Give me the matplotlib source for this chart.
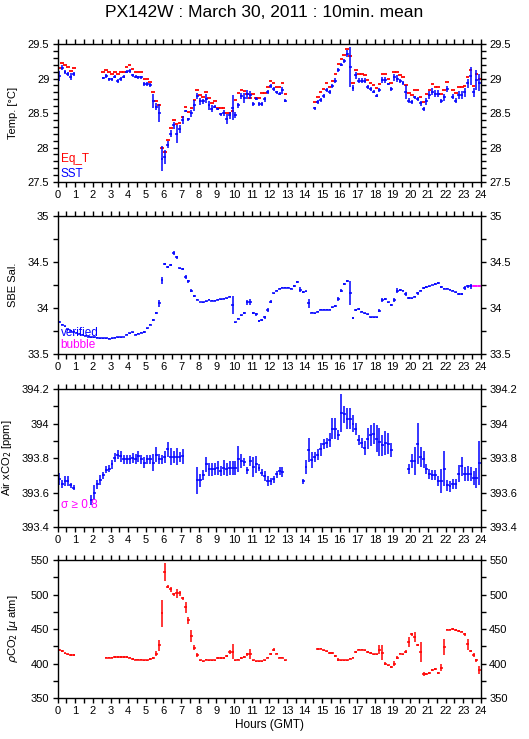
import numpy as np
import matplotlib
matplotlib.use('Agg')
import matplotlib.pyplot as plt
from matplotlib.ticker import MultipleLocator

plt.rcParams['font.family'] = ['Liberation Sans', 'DejaVu Sans']
plt.rcParams['mathtext.fontset'] = 'dejavusans'

nan = np.nan

# 10-min means, interval centres (hours GMT)
hours = np.arange(144) / 6.0 + 1.0 / 12
half = 1.0 / 12

# ---- Temperature ----
sst = ([29.04, 29.16, 29.09, 29.07, 29.03, 29.07] + [nan] * 9 +
       [29.01, 29.04, 28.99, 28.99, 29.03, 28.97, 29.00, 29.03, 29.10, 29.11,
        29.05, 29.03, 29.02, 29.02, 28.92, 28.92, 28.91, 28.68, 28.59, 28.50,
        27.84, 27.86, 28.04, 28.20, 28.32, 28.20, 28.27, 28.40, 28.53, 28.41,
        28.50, 28.61, 28.75, 28.67, 28.67, 28.71, 28.61, 28.56, 28.59, 28.56,
        28.48, 28.50, 28.41, 28.47, 28.58, 28.47, 28.61, 28.75, 28.72, 28.77,
        28.76, 28.63, 28.71, 28.63, 28.63, 28.70, 28.81, 28.89, 28.85, 28.80,
        28.78, 28.83, 28.68] + [nan] * 9 +
       [28.57, 28.66, 28.69, 28.75, 28.84, 28.80, 28.89, 28.97, 29.12, 29.20,
        29.25, 29.36, 29.17, 28.86, 29.05, 28.97, 28.97, 28.97, 28.88, 28.85,
        28.81, 28.75, 28.83, 28.98, 28.98, 28.92, 28.85, 29.02, 29.00, 28.97,
        28.93, 28.80, 28.68, 28.66, 28.73, 28.71, 28.64, 28.56, 28.67, 28.76,
        28.81, 28.78, 28.78, 28.67, 28.73, 28.85] + [nan] +
       [28.74, 28.68, 28.76, 28.76, 28.80, 28.93, 29.04, 28.80, 28.98, 28.94])
sst_err = ([0.07, 0.04, 0.03, 0.03, 0.05, 0.03] + [nan] * 9 +
           [0.02, 0.03, 0.02, 0.02, 0.02, 0.03, 0.03, 0.02, 0.02, 0.03,
            0.02, 0.02, 0.02, 0.02, 0.03, 0.03, 0.03, 0.10, 0.05, 0.13,
            0.18, 0.10, 0.05, 0.05, 0.05, 0.13, 0.06, 0.06, 0.02, 0.02,
            0.05, 0.08, 0.04, 0.05, 0.04, 0.07, 0.07, 0.05, 0.02, 0.02,
            0.02, 0.04, 0.07, 0.05, 0.18, 0.04, 0.04, 0.04, 0.07, 0.06,
            0.06, 0.03, 0.02, 0.03, 0.03, 0.04, 0.03, 0.03, 0.03, 0.02,
            0.02, 0.05, 0.02] + [nan] * 9 +
           [0.02, 0.03, 0.03, 0.03, 0.03, 0.03, 0.03, 0.04, 0.03, 0.02,
            0.03, 0.05, 0.29, 0.04, 0.05, 0.04, 0.04, 0.04, 0.03, 0.03,
            0.02, 0.02, 0.03, 0.04, 0.04, 0.02, 0.03, 0.05, 0.05, 0.03,
            0.03, 0.10, 0.04, 0.03, 0.02, 0.03, 0.04, 0.03, 0.05, 0.06,
            0.05, 0.05, 0.05, 0.03, 0.05, 0.04] + [nan] +
           [0.03, 0.04, 0.06, 0.06, 0.06, 0.07, 0.13, 0.06, 0.15, 0.12])
eq_t = ([29.15, 29.22, 29.20, 29.17, 29.11, 29.15] + [nan] * 9 +
        [29.09, 29.13, 29.09, 29.07, 29.09, 29.07, 29.09, 29.10, 29.17, 29.20,
         29.14, 29.10, 29.10, 29.09, 29.00, 29.00, 28.95, 28.80, 28.68, 28.61,
         27.99, 27.93, 28.11, 28.29, 28.40, 28.34, 28.35, 28.45, 28.59, 28.52,
         28.58, 28.69, 28.84, 28.76, 28.74, 28.80, 28.72, 28.65, 28.67, 28.57,
         28.57, 28.57, 28.50, 28.50, 28.53, 28.69, 28.79, 28.83, 28.82, 28.78,
         28.72, 28.78, 28.72, 28.72, 28.79, 28.79, 28.88, 28.97, 28.94, 28.88,
         28.88, 28.94, 28.78] + [nan] * 9 +
        [28.66, 28.74, 28.80, 28.85, 28.93, 28.88, 28.96, 29.06, 29.21, 29.28,
         29.34, 29.43, 29.33, 28.93, 29.12, 29.07, 29.06, 29.05, 28.98, 28.93,
         28.90, 28.86, 28.92, 29.06, 29.07, 29.00, 28.93, 29.09, 29.09, 29.05,
         29.02, 28.90, 28.79, 28.76, 28.83, 28.83, 28.74, 28.66, 28.77, 28.83,
         28.92, 28.88, 28.88, 28.77, 28.83, 28.95] + [nan] +
        [28.83, 28.79, 28.88, 28.88, 28.89, 29.02, 29.13, 28.89, 29.06, 29.00])

# ---- Salinity ----
sal = [33.845, 33.82, 33.80, 33.77, 33.755, 33.74, 33.73, 33.72, 33.71, 33.70,
       33.69, 33.68, 33.68, 33.675, 33.67, 33.67, 33.67, 33.665, 33.67, 33.675,
       33.68, 33.68, 33.685, 33.71, 33.725, 33.735, 33.71, 33.72, 33.73, 33.74,
       33.78, 33.82, 33.87, 33.945, 34.05, 34.30, 34.48, 34.45, 34.47, 34.60,
       34.55, 34.43, 34.42, 34.34, 34.29, 34.19, 34.13, 34.09, 34.065, 34.06,
       34.075, 34.09, 34.08, 34.08, 34.09, 34.095, 34.10, 34.105, 34.125, 34.03,
       33.845, 33.885, 33.92, 33.95, 34.06, 34.065, 33.945, 33.93, 33.86, 33.87,
       33.90, 33.98, 34.07, 34.16, 34.19, 34.21, 34.22, 34.22, 34.22, 34.21,
       34.24, 34.285, 34.20, 34.17, 34.18, 34.05, 33.95, 33.945, 33.96, 33.98,
       33.98, 33.98, 33.98, 34.01, 34.02, 34.10, 34.19, 34.26, 34.295, 34.16,
       33.89, 33.98, 33.99, 33.96, 33.945, 33.93, 33.90, 33.90, 33.90, 33.97,
       34.09, 34.095, 34.06, 34.035, 34.09, 34.19, 34.20, 34.19, 34.155, 34.105,
       34.105, 34.125, 34.16, 34.19, 34.22, 34.23, 34.235, 34.25, 34.26, 34.27,
       34.23, 34.21, 34.21, 34.20, 34.19, 34.17, 34.155, 34.155, 34.22, 34.235,
       34.235, 34.235, 34.24, 34.24]
sal_err = [0.01, 0.005, 0.005, 0.005, 0.005, 0.005, 0.005, 0.005, 0.005, 0.005,
           0.005, 0.005, 0.005, 0.005, 0.005, 0.005, 0.005, 0.005, 0.005, 0.005,
           0.005, 0.005, 0.005, 0.008, 0.008, 0.005, 0.005, 0.005, 0.005, 0.008,
           0.008, 0.01, 0.012, 0.015, 0.035, 0.035, 0.015, 0.01, 0.01, 0.02,
           0.02, 0.01, 0.01, 0.02, 0.02, 0.015, 0.01, 0.008, 0.005, 0.005,
           0.005, 0.008, 0.005, 0.005, 0.005, 0.005, 0.005, 0.005, 0.008, 0.1,
           0.008, 0.008, 0.008, 0.01, 0.03, 0.03, 0.015, 0.015, 0.01, 0.01,
           0.015, 0.02, 0.02, 0.008, 0.008, 0.005, 0.005, 0.005, 0.005, 0.005,
           0.01, 0.008, 0.03, 0.01, 0.008, 0.05, 0.008, 0.005, 0.005, 0.005,
           0.005, 0.005, 0.005, 0.005, 0.008, 0.02, 0.015, 0.01, 0.008, 0.13,
           0.008, 0.01, 0.01, 0.008, 0.005, 0.005, 0.005, 0.005, 0.005, 0.015,
           0.02, 0.01, 0.008, 0.008, 0.02, 0.025, 0.01, 0.008, 0.02, 0.01,
           0.008, 0.008, 0.015, 0.01, 0.008, 0.008, 0.008, 0.005, 0.008, 0.008,
           0.008, 0.008, 0.008, 0.005, 0.01, 0.008, 0.01, 0.01, 0.02, 0.02,
           0.025, 0.01, 0.01, 0.01]
sal_bubble = [False] * 141 + [True] * 3

# ---- Air xCO2 ----
xco2 = ([393.681, 393.650, 393.667, 393.667, 393.642, 393.627] + [nan] * 5 +
        [393.555, 393.600, 393.648, 393.671, 393.700, 393.733, 393.739, 393.764,
         393.803, 393.820, 393.809, 393.793, 393.793, 393.793, 393.800, 393.793,
         393.809, 393.793, 393.774, 393.793, 393.793, 393.774, 393.820, 393.793,
         393.793, 393.807, 393.850, 393.807, 393.807, 393.807, 393.807, 393.810] +
        [nan] * 4 +
        [393.670, 393.670, 393.700, 393.763, 393.734, 393.734, 393.734, 393.744,
         393.724, 393.744, 393.734, 393.744, 393.744, 393.744, 393.792, 393.783,
         393.777, 393.728, 393.783, 393.748, 393.763, 393.744, 393.715, 393.695,
         393.666, 393.666, 393.676, 393.705, 393.724, 393.720] + [nan] * 6 +
        [393.666, 393.750, 393.848, 393.790, 393.806, 393.820, 393.850, 393.883,
         393.887, 393.903, 393.971, 393.971, 393.932, 394.062, 394.054, 394.029,
         394.029, 394.000, 393.971, 393.903, 393.887, 393.860, 393.913, 393.932,
         393.942, 393.913, 393.893, 393.874, 393.887, 393.883, 393.845] +
        [nan] * 5 +
        [393.738, 393.783, 393.783, 393.883, 393.806, 393.792, 393.738, 393.709,
         393.700, 393.700, 393.666, 393.666, 393.738, 393.641, 393.635, 393.650,
         393.650, 393.709, 393.751, 393.709, 393.709, 393.709, 393.685, 393.685,
         393.771])
xco2_err = ([0.035, 0.025, 0.03, 0.03, 0.015, 0.015] + [nan] * 5 +
            [0.03, 0.045, 0.025, 0.03, 0.02, 0.02, 0.02, 0.025, 0.025, 0.025,
             0.03, 0.025, 0.025, 0.025, 0.03, 0.03, 0.03, 0.025, 0.03, 0.025,
             0.025, 0.05, 0.045, 0.03, 0.027, 0.035, 0.045, 0.05, 0.035, 0.05,
             0.03, 0.045] + [nan] * 4 +
            [0.08, 0.04, 0.03, 0.045, 0.04, 0.04, 0.035, 0.04, 0.03, 0.045,
             0.04, 0.04, 0.04, 0.04, 0.075, 0.04, 0.025, 0.02, 0.03, 0.06,
             0.05, 0.02, 0.02, 0.03, 0.03, 0.02, 0.02, 0.02, 0.025, 0.03] +
            [nan] * 6 +
            [0.015, 0.04, 0.07, 0.045, 0.03, 0.03, 0.04, 0.03, 0.03, 0.04,
             0.06, 0.06, 0.03, 0.11, 0.05, 0.06, 0.06, 0.05, 0.035, 0.03,
             0.03, 0.04, 0.06, 0.06, 0.06, 0.08, 0.08, 0.06, 0.07, 0.06,
             0.04] + [nan] * 5 +
            [0.03, 0.04, 0.08, 0.12, 0.06, 0.05, 0.03, 0.03, 0.03, 0.03,
             0.03, 0.07, 0.1, 0.03, 0.03, 0.03, 0.03, 0.05, 0.055, 0.04,
             0.045, 0.04, 0.04, 0.06, 0.13])

# ---- pCO2 ----
pco2 = ([419.2, 418.3, 414.8, 413.4, 412.1, 412.1] + [nan] * 10 +
        [408.7, 408.7, 408.7, 409.6, 409.6, 409.6, 409.6, 409.6, 408.7, 406.7,
         405.8, 405.8, 405.8, 404.8, 404.8, 406.7, 407.7, 414.5, 426.6, 472.6,
         532.1, 511.3, 507.4, 500.6, 501.6, 501.6, 494.3, 481.3, 462.9, 439.6,
         423.2, 412.1, 404.8, 403.3, 405.8, 404.8, 404.8, 404.8, 408.2, 408.2,
         408.2, 410.6, 416.9, 416.9, 404.8, 405.8, 408.2, 409.6, 413.5, 413.5,
         404.8, 403.3, 403.3, 403.3, 404.8, 408.7, 413.5, 420.3, 414.5, 408.7,
         408.7, 404.8] + [nan] * 10 +
        [420.8, 421.7, 419.3, 417.8, 415.4, 415.4, 410.6, 405.8, 404.8, 404.8,
         404.8, 407.2, 408.7, 416.9, 420.3, 420.3, 419.3, 416.9, 415.4, 413.5,
         413.5, 420.3, 415.9, 400.0, 397.5, 395.1, 400.0, 408.7, 414.5, 413.5,
         416.9, 431.4, 442.5, 438.7, 426.6, 416.9, 384.5, 384.5, 386.4, 391.2,
         392.7, 386.4, 394.1, 424.2, 449.3, 449.3, 449.8, 448.4, 447.4, 446.0,
         442.5, 428.0, 418.3, 412.0, 404.8, 390.3])
pco2_err = ([1.5, 1, 1, 1, 1, 1] + [nan] * 10 +
            [1, 1, 1, 1, 1, 1, 1, 1, 1, 1,
             1, 1, 1, 1, 1, 1, 1.5, 4, 8, 19,
             13, 2, 3, 2, 6, 4, 2, 8, 5, 9,
             4, 3, 1, 1, 1, 1, 1, 1, 1, 1,
             1, 1.5, 3, 11, 1, 1, 1, 1, 2, 7,
             1, 1, 1, 1, 1, 1, 1.5, 1.5, 1, 1,
             1, 1] + [nan] * 10 +
            [1, 1, 1, 1, 1, 1, 1.5, 1.5, 1, 1,
             1, 1, 1, 1, 1, 1, 1, 1, 1, 1,
             1, 6, 11, 1.5, 1, 1, 4, 2, 1, 1,
             2, 7, 2, 7, 1.5, 15, 3, 1.5, 1.5, 1.5,
             1.5, 1.5, 5, 12, 1, 1, 1, 1, 1, 1,
             2, 8, 2, 3, 2, 6])

BLUE = '#0000ff'
RED = '#ff0000'
MAG = '#ff00ff'
LW = 1.1
FS = 8


def crosses(ax, x, y, err, color):
    ax.errorbar(x, y, xerr=half, yerr=err, fmt='none', ecolor=color,
                elinewidth=LW, capsize=0)


fig = plt.figure(figsize=(5.29, 7.39), dpi=100)
left, width, height = 0.109, 0.800, 0.1866
bottoms = [0.7537, 0.5210, 0.2869, 0.0555]
axes = [fig.add_axes([left, b, width, height]) for b in bottoms]

# panel 1
ax = axes[0]
ax.errorbar(hours, eq_t, xerr=0.1, fmt='none', ecolor=RED, elinewidth=1.3, capsize=0)
crosses(ax, hours, sst, sst_err, BLUE)
ax.set_ylim(27.5, 29.5)
ax.set_yticks([27.5, 28, 28.5, 29, 29.5], ['27.5', '28', '28.5', '29', '29.5'])
ax.yaxis.set_minor_locator(MultipleLocator(0.1))
ax.set_ylabel('Temp. [°C]', fontsize=FS)
ax.yaxis.set_label_coords(-0.094, 0.5)
ax.text(0.007, 0.145, 'Eq_T', color=RED, fontsize=FS + 0.5, transform=ax.transAxes, va='baseline')
ax.text(0.007, 0.036, 'SST', color=BLUE, fontsize=FS + 0.5, transform=ax.transAxes, va='baseline')

# panel 2
ax = axes[1]
sal_a = np.array(sal)
sal_e = np.array(sal_err)
flag = np.array(sal_bubble)
crosses(ax, hours[~flag], sal_a[~flag], sal_e[~flag], BLUE)
crosses(ax, hours[flag], sal_a[flag], sal_e[flag], MAG)
ax.set_ylim(33.5, 35)
ax.set_yticks([33.5, 34, 34.5, 35], ['33.5', '34', '34.5', '35'])
ax.yaxis.set_minor_locator(MultipleLocator(0.25))
ax.set_ylabel('SBE Sal.', fontsize=FS)
ax.yaxis.set_label_coords(-0.094, 0.5)
ax.text(0.007, 0.133, 'verified', color=BLUE, fontsize=FS + 0.5, transform=ax.transAxes, va='baseline')
ax.text(0.007, 0.046, 'bubble', color=MAG, fontsize=FS + 0.5, transform=ax.transAxes, va='baseline')

# panel 3
ax = axes[2]
crosses(ax, hours, xco2, xco2_err, BLUE)
ax.set_ylim(393.4, 394.2)
ax.set_yticks([393.4, 393.6, 393.8, 394.0, 394.2],
              ['393.4', '393.6', '393.8', '394', '394.2'])
ax.yaxis.set_minor_locator(MultipleLocator(0.1))
ax.set_ylabel('Air xCO$_2$ [ppm]', fontsize=FS)
ax.yaxis.set_label_coords(-0.103, 0.5)
ax.text(0.007, 0.14, 'σ ≥ 0.8', color=MAG, fontsize=FS + 0.5, transform=ax.transAxes, va='baseline')

# panel 4
ax = axes[3]
crosses(ax, hours, pco2, pco2_err, RED)
ax.set_ylim(350, 550)
ax.set_yticks([350, 400, 450, 500, 550])
ax.yaxis.set_minor_locator(MultipleLocator(25))
ax.set_ylabel(r'$\rho$CO$_2$ [$\mu$ atm]', fontsize=FS)
ax.yaxis.set_label_coords(-0.088, 0.5)
ax.set_xlabel('Hours (GMT)', fontsize=FS + 0.5, labelpad=2)

for ax in axes:
    ax.set_xlim(0, 24)
    ax.set_xticks(range(0, 25))
    ax.xaxis.set_minor_locator(MultipleLocator(0.5))
    ax.tick_params(which='both', direction='out', top=True, right=True,
                   labelright=True, length=3.5, width=1, labelsize=FS, pad=2.5)
    for sp in ax.spines.values():
        sp.set_linewidth(1.0)

fig.text(0.5, 0.983, 'PX142W : March 30, 2011 : 10min. mean',
         ha='center', va='center', fontsize=12.5)

fig.savefig('out.png', dpi=100)
